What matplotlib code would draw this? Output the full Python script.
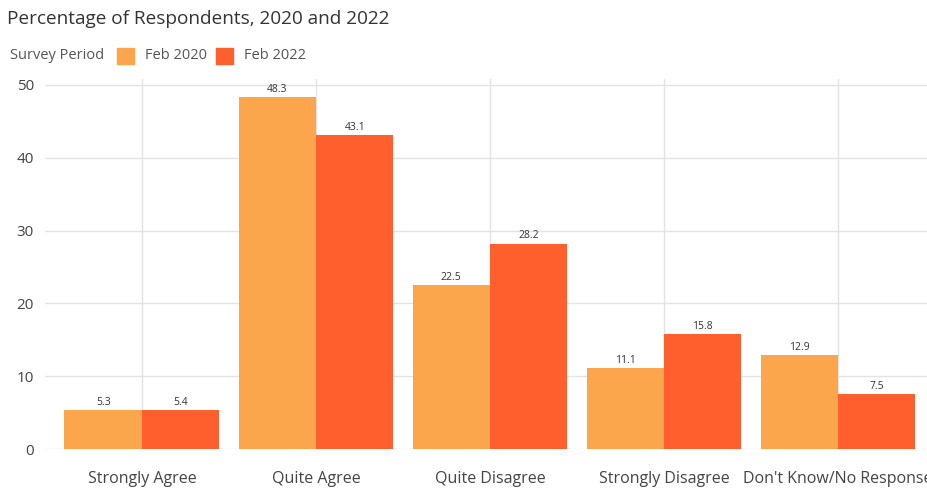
import matplotlib.pyplot as plt
import numpy as np

categories = ['Strongly Agree', 'Quite Agree', 'Quite Disagree', 'Strongly Disagree', "Don't Know/No Response"]
feb_2020 = [5.3, 48.3, 22.5, 11.1, 12.9]
feb_2022 = [5.4, 43.1, 28.2, 15.8, 7.5]
series_names = ['Feb 2020', 'Feb 2022']
colors = ['#FBA64C', '#FE5F2D']
yticks = [0, 10, 20, 30, 40, 50]

plt.rcParams['font.family'] = ['Open Sans', 'DejaVu Sans']

fig = plt.figure(figsize=(9.28, 4.91), dpi=100)
ax = fig.add_axes([0.0485, 0.0855, 0.9515, 0.7535])

x = np.arange(len(categories))
w = 0.445
bars1 = ax.bar(x - w / 2, feb_2020, width=w, color=colors[0], zorder=2)
bars2 = ax.bar(x + w / 2, feb_2022, width=w, color=colors[1], zorder=2)

# value labels above each bar
for bars in (bars1, bars2):
    for b in bars:
        ax.text(b.get_x() + b.get_width() / 2, b.get_height() + 0.3, f'{b.get_height():.1f}',
                ha='center', va='bottom', fontsize=7.5, color='#333333', zorder=3)

ax.set_xlim(-0.557, 4.517)
ax.set_ylim(0, 50.8)
ax.set_xticks(x)
ax.set_xticklabels(categories, fontsize=11.5, color='#444444')
ax.set_yticks(yticks)
ax.set_yticklabels([str(v) for v in yticks], fontsize=11, color='#444444')
ax.tick_params(length=0, pad=8)
ax.tick_params(axis='x', pad=16)
ax.grid(True, color='#e3e3e3', linewidth=1, zorder=0)
for s in ax.spines.values():
    s.set_visible(False)

fig.text(0.008, 0.962, 'Percentage of Respondents, 2020 and 2022', fontsize=13.7, color='#333333', va='center')
fig.text(0.011, 0.886, 'Survey Period', fontsize=10.5, color='#555555', va='center')
for i, (name, c) in enumerate(zip(series_names, colors)):
    x0 = 0.126 + i * 0.1065
    fig.patches.append(plt.Rectangle((x0, 0.869), 0.0185, 0.034, color=c, transform=fig.transFigure, figure=fig))
    fig.text(x0 + 0.03, 0.886, name, fontsize=10.5, color='#555555', va='center')

fig.savefig('out.png', dpi=100)
